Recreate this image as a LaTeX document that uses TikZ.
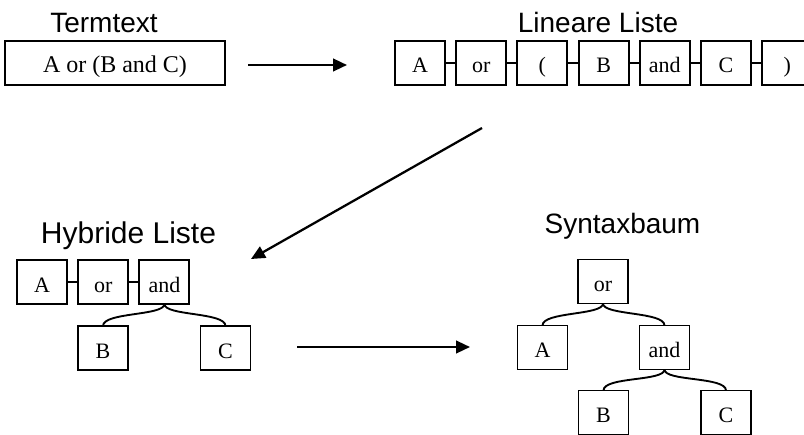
\documentclass[tikz,border=0pt]{standalone}
\usepackage{fontspec}
\setmainfont{Liberation Serif}
\setsansfont{Liberation Sans}
\usetikzlibrary{arrows.meta,positioning}
\tikzset{
  bx/.style={draw,line width=1.4pt,minimum width=37.5pt,minimum height=33pt,
             inner sep=0pt,outer sep=0pt,text height=17pt,text depth=2pt,
             font=\fontsize{16.5}{18}\selectfont},
  ttl/.style={font=\sffamily\fontsize{21}{24}\selectfont,anchor=base,inner sep=0pt},
  lnk/.style={line width=1.4pt},
  ge/.style={-{Triangle[length=10.5pt,width=9.5pt]},line width=1.7pt},
}

\begin{document}
\begin{tikzpicture}[x=0.75pt,y=-0.75pt,
    node distance=8.4pt,
    sub/.style={lnk},
  ]
  \useasboundingbox (0,0) rectangle (804,435);

  % Termtext
  \node[ttl] (tTerm) at (104,33) {Termtext};
  \node[bx,minimum width=165pt,font=\fontsize{18}{20}\selectfont] (term) at (115,63)
    {A or (B and C)};
  \coordinate (a1s) at (248,65);
  \coordinate (a1e) at (347,65);
  \draw[ge] (a1s) -- (a1e);

  % Lineare Liste
  \node[ttl] (tLin) at (598,33) {Lineare Liste};
  \node[bx] (l1) at (420,63) {A};
  \node[bx,right=of l1] (l2) {or};
  \node[bx,right=of l2] (l3) {(};
  \node[bx,right=of l3] (l4) {B};
  \node[bx,right=of l4] (l5) {and};
  \node[bx,right=of l5] (l6) {C};
  \node[bx,right=of l6] (l7) {)};
  \foreach \i/\j in {1/2,2/3,3/4,4/5,5/6,6/7}
    \draw[lnk] (l\i.east) -- (l\j.west);

  \coordinate (a2s) at (482,128);
  \coordinate (a2e) at (251,259);
  \draw[ge] (a2s) -- (a2e);

  % Hybride Liste
  \node[ttl,font=\sffamily\fontsize{22.5}{26}\selectfont] (tHyb) at (128.5,243) {Hybride Liste};
  \node[bx] (hA) at (42,282) {A};
  \node[bx,right=of hA] (hor) {or};
  \node[bx,right=of hor] (hand) {and};
  \node[bx] (hB) at (103,348) {B};
  \node[bx] (hC) at (225.5,348) {C};
  \draw[lnk] (hA) -- (hor);
  \draw[lnk] (hor) -- (hand);
  \draw[sub] (hand.south) .. controls +(0,12) and +(0,-14) .. (hB.north);
  \draw[sub] (hand.south) .. controls +(0,12) and +(0,-14) .. (hC.north);

  \coordinate (a3s) at (297,347);
  \coordinate (a3e) at (470,347);
  \draw[ge] (a3s) -- (a3e);

  % Syntaxbaum
  \node[ttl] (tSyn) at (622.5,233) {Syntaxbaum};
  \node[bx] (sor) at (603,281.5) {or};
  \node[bx] (sA) at (542.5,347.5) {A};
  \node[bx] (sand) at (664.5,347.5) {and};
  \node[bx] (sB) at (603.5,412.5) {B};
  \node[bx] (sC) at (726,412.5) {C};
  \draw[sub] (sor.south) .. controls +(0,12) and +(0,-14) .. (sA.north);
  \draw[sub] (sor.south) .. controls +(0,12) and +(0,-14) .. (sand.north);
  \draw[sub] (sand.south) .. controls +(0,12) and +(0,-14) .. (sB.north);
  \draw[sub] (sand.south) .. controls +(0,12) and +(0,-14) .. (sC.north);
\end{tikzpicture}
\end{document}
